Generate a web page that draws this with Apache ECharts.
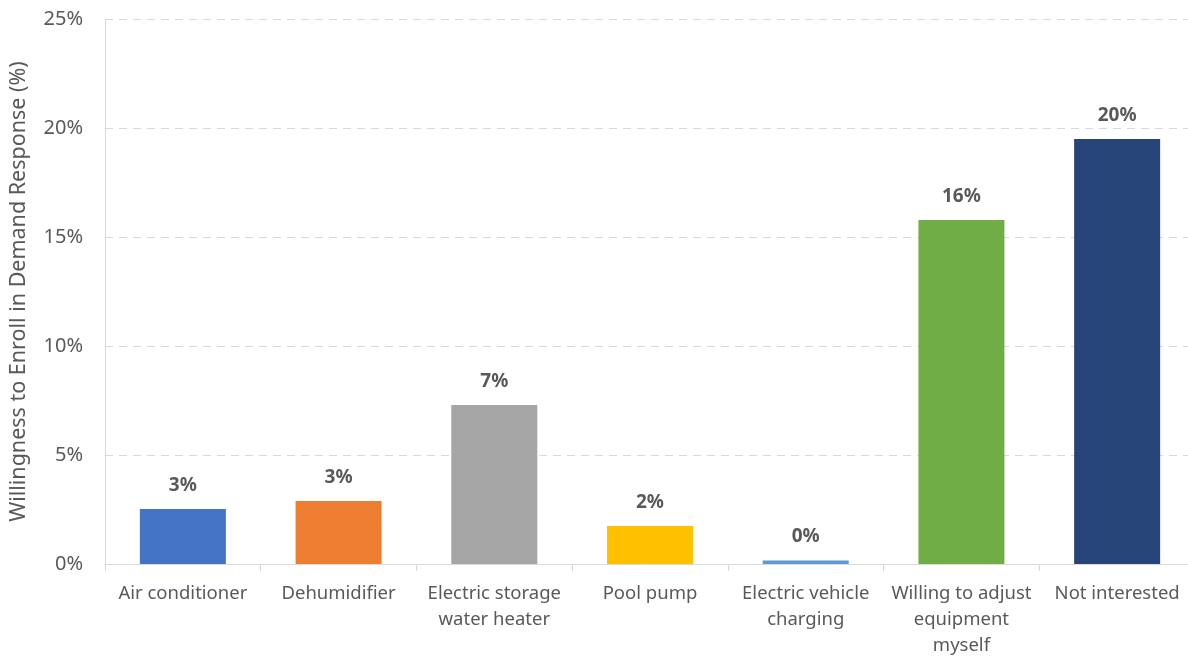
<!DOCTYPE html>
<html>
<head>
<meta charset="utf-8">
<script src="https://cdn.jsdelivr.net/npm/echarts@6/dist/echarts.min.js"></script>
<style>
html,body{margin:0;padding:0;background:#fff;}
#c{width:1188px;height:656px;}
</style>
</head>
<body>
<div id="c"></div>
<script>
const categories = ["Air conditioner", "Dehumidifier", "Electric storage\nwater heater", "Pool pump", "Electric vehicle\ncharging", "Willing to adjust\nequipment\nmyself", "Not interested"];
const values = [2.52, 2.89, 7.29, 1.74, 0.16, 15.78, 19.5];
const colors = ["#4472c4", "#ed7d31", "#a5a5a5", "#ffc000", "#5b9bd5", "#70ad47", "#264478"];
const yTicks = [0, 5, 10, 15, 20, 25];

const chart = echarts.init(document.getElementById('c'), null, {renderer: 'canvas'});
const font = 'Noto Sans, Liberation Sans, sans-serif';
chart.setOption({
  animation: false,
  textStyle: {fontFamily: font},
  grid: {left: 105, top: 19, width: 1090, height: 545, containLabel: false, outerBoundsMode: 'none'},
  xAxis: {
    type: 'category',
    data: categories,
    axisLine: {lineStyle: {color: '#d9d9d9', width: 1}},
    axisTick: {show: true, length: 7, lineStyle: {color: '#d9d9d9'}},
    axisLabel: {color: '#595959', fontSize: 18.5, lineHeight: 26, margin: 17, interval: 0, fontFamily: font}
  },
  yAxis: {
    type: 'value',
    min: yTicks[0], max: yTicks[yTicks.length - 1], interval: 5,
    name: 'Willingness to Enroll in Demand Response (%)',
    nameLocation: 'middle',
    nameGap: 75,
    nameRotate: 90,
    nameTextStyle: {color: '#595959', fontSize: 21.5, fontFamily: font},
    axisLine: {show: true, lineStyle: {color: '#d9d9d9', width: 1}},
    axisTick: {show: false},
    axisLabel: {color: '#595959', fontSize: 20, margin: 22, formatter: v => v + '%', fontFamily: font},
    splitLine: {show: true, lineStyle: {color: '#d9d9d9', type: [8, 6], width: 1}}
  },
  series: [{
    type: 'bar',
    barWidth: 86,
    data: values.map((v, i) => ({value: v, itemStyle: {color: colors[i]}})),
    label: {
      show: true,
      position: 'top',
      distance: 14,
      color: '#595959',
      fontSize: 19,
      fontWeight: 'bold',
      fontFamily: font,
      formatter: p => Math.round(p.value) + '%'
    }
  }]
});
</script>
</body>
</html>
